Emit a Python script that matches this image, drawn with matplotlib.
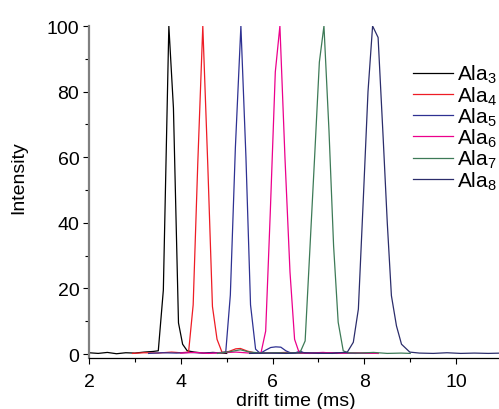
import matplotlib
matplotlib.use("Agg")
import matplotlib.pyplot as plt
from matplotlib.ticker import MultipleLocator

plt.rcParams["font.family"] = ["Liberation Sans", "DejaVu Sans"]
plt.rcParams["mathtext.default"] = "regular"

# drift time (ms) and intensity for each peptide
t_ala3 = [2.0, 2.2, 2.4, 2.6, 2.8, 3.0, 3.2, 3.4, 3.51, 3.62, 3.74, 3.84, 3.95,
          4.04, 4.14, 4.3, 4.5, 4.7, 5.0]
i_ala3 = [0.4, 0.2, 0.5, 0.1, 0.4, 0.3, 0.6, 0.8, 1.0, 19.5, 100, 75, 9.5,
          3.0, 1.0, 0.6, 0.3, 0.5, 0.2]

t_ala4 = [2.95, 3.2, 3.5, 3.8, 4.0, 4.17, 4.27, 4.37, 4.48, 4.59, 4.69, 4.79,
          4.9, 5.05, 5.2, 5.3, 5.45, 5.6, 5.9, 6.3, 6.8, 7.3, 7.8, 8.3]
i_ala4 = [0.2, 0.4, 0.3, 0.6, 0.4, 0.6, 15, 58, 100, 57, 14.5, 4.5,
          0.5, 0.8, 1.6, 1.7, 0.9, 0.4, 0.3, 0.5, 0.2, 0.4, 0.3, 0.2]

t_ala5 = [3.3, 3.6, 3.9, 4.2, 4.5, 4.8, 4.98, 5.08, 5.19, 5.31, 5.42, 5.52,
          5.63, 5.73, 5.85, 5.96, 6.07, 6.18, 6.29, 6.4, 6.5, 6.6, 6.7, 7.0,
          7.4, 7.8, 8.2]
i_ala5 = [0.2, 0.4, 0.3, 0.5, 0.3, 0.4, 0.6, 18, 63, 100, 60, 15,
          1.5, 0.2, 1.2, 2.0, 2.2, 2.1, 1.0, 0.3, 0.4, 0.9, 0.3, 0.2,
          0.4, 0.2, 0.3]

t_ala6 = [4.0, 4.3, 4.6, 4.9, 5.2, 5.5, 5.75, 5.85, 5.95, 6.06, 6.16, 6.27,
          6.38, 6.48, 6.58, 6.8, 7.1, 7.4, 7.7, 8.0, 8.3]
i_ala6 = [0.3, 0.5, 0.2, 0.4, 0.6, 0.3, 0.5, 7, 43, 86, 100, 60,
          25, 4.5, 0.4, 0.3, 0.5, 0.2, 0.4, 0.3, 0.2]

t_ala7 = [4.8, 5.1, 5.3, 5.5, 5.8, 6.1, 6.4, 6.6, 6.71, 6.81, 6.92, 7.02,
          7.12, 7.23, 7.33, 7.43, 7.54, 7.64, 7.9, 8.2, 8.5, 8.8, 9.0]
i_ala7 = [0.2, 0.8, 1.3, 0.6, 0.3, 0.4, 0.3, 0.5, 4, 31, 61, 89,
          100, 68, 33, 9.7, 1.0, 0.4, 0.3, 0.5, 0.2, 0.3, 0.2]

t_ala8 = [5.5, 5.9, 6.3, 6.7, 7.0, 7.3, 7.63, 7.76, 7.87, 7.98, 8.08, 8.18,
          8.30, 8.41, 8.50, 8.59, 8.70, 8.81, 8.99, 9.2, 9.5, 9.8, 10.1,
          10.4, 10.7, 11.0]
i_ala8 = [0.2, 0.3, 0.2, 0.4, 0.3, 0.2, 0.6, 3.6, 13.7, 48, 80, 100,
          96.5, 66, 40, 17.8, 8.6, 3.0, 0.6, 0.3, 0.2, 0.4, 0.2,
          0.3, 0.2, 0.3]

labels = [r"Ala$_{3}$", r"Ala$_{4}$", r"Ala$_{5}$",
          r"Ala$_{6}$", r"Ala$_{7}$", r"Ala$_{8}$"]
colors = ["#000000", "#ee1c25", "#2e3192", "#ec008c", "#3d7a57", "#2b2d6b"]

series = [(t_ala3, i_ala3), (t_ala4, i_ala4), (t_ala5, i_ala5),
          (t_ala6, i_ala6), (t_ala7, i_ala7), (t_ala8, i_ala8)]

fig = plt.figure(figsize=(4.99, 4.10), dpi=100)
ax = fig.add_axes([89 / 499, 51 / 410, 413 / 499, 332 / 410])

for (t, i), lab, col in zip(series, labels, colors):
    ax.plot(t, i, color=col, lw=0.9, label=lab)

ax.set_xlim(2, 11)
ax.set_ylim(-1.2, 100)

ax.xaxis.set_major_locator(MultipleLocator(2))
ax.xaxis.set_minor_locator(MultipleLocator(1))
ax.yaxis.set_major_locator(MultipleLocator(20))
ax.yaxis.set_minor_locator(MultipleLocator(10))

ax.spines["top"].set_visible(False)
ax.spines["right"].set_visible(False)
ax.spines["left"].set_color("#808080")
ax.spines["left"].set_linewidth(1.6)
ax.spines["bottom"].set_linewidth(0.9)

ax.tick_params(which="major", direction="out", length=4, width=0.8,
               labelsize=14)
ax.tick_params(which="minor", direction="out", length=3, width=0.8)
ax.tick_params(axis="y", pad=3)
ax.tick_params(axis="x", pad=7)

ax.set_xlabel("drift time (ms)", fontsize=14, labelpad=1)
ax.set_ylabel("Intensity", fontsize=14)
ax.yaxis.set_label_coords(-0.15, 0.545)

ax.legend(loc="upper left", bbox_to_anchor=(413 / 499, 1 - 64 / 410),
          bbox_transform=fig.transFigure, frameon=False, fontsize=15,
          handlelength=1.9, handletextpad=0.22, labelspacing=-0.05,
          borderpad=0, borderaxespad=0)

plt.savefig("out.png", dpi=100)
